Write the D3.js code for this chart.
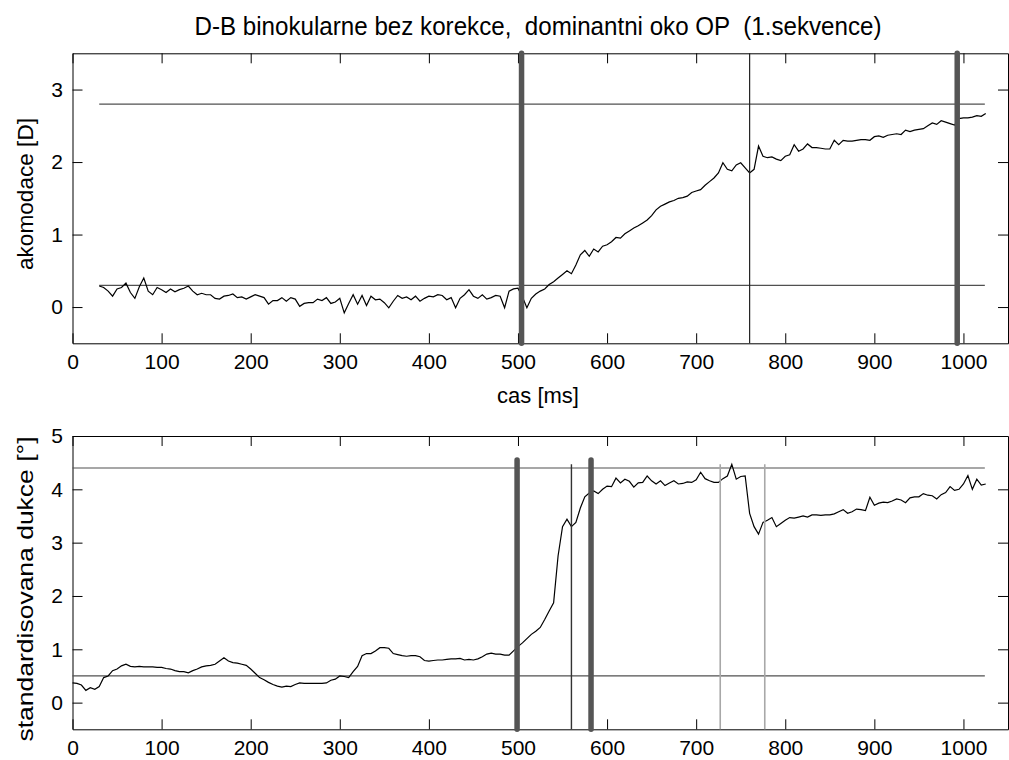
<!DOCTYPE html>
<html>
<head>
<meta charset="utf-8">
<script src="https://cdn.jsdelivr.net/npm/d3@7"></script>
<style>
  body { margin: 0; background: #fff; }
  svg { display: block; }
  text { font-family: "Liberation Sans", Arial, sans-serif; fill: #000; }
</style>
</head>
<body>
<div id="chart"></div>
<script>
const title = "D-B binokularne bez korekce,  dominantni oko OP  (1.sekvence)";
const xTicks = [0, 100, 200, 300, 400, 500, 600, 700, 800, 900, 1000];

// top panel: akomodace, sampled every 5 ms from 30 ms
const akomTime = d3.range(30, 1026, 5);
const akomValues = [
  0.29, 0.27, 0.22, 0.15, 0.25, 0.27, 0.33, 0.20, 0.12, 0.28,
  0.40, 0.22, 0.17, 0.27, 0.24, 0.20, 0.25, 0.21, 0.24, 0.26,
  0.29, 0.22, 0.17, 0.19, 0.17, 0.17, 0.12, 0.11, 0.15, 0.16,
  0.18, 0.13, 0.14, 0.11, 0.14, 0.17, 0.15, 0.13, 0.04, 0.09,
  0.09, 0.13, 0.08, 0.13, 0.11, 0.01, 0.05, 0.06, 0.06, 0.11,
  0.09, 0.13, 0.05, 0.07, 0.12, -0.08, 0.05, 0.17, 0.04, 0.16,
  0.02, 0.15, 0.10, 0.11, 0.06, -0.01, 0.08, 0.16, 0.12, 0.14,
  0.10, 0.15, 0.08, 0.12, 0.15, 0.14, 0.17, 0.16, 0.10, 0.13,
  -0.01, 0.12, 0.17, 0.24, 0.15, 0.12, 0.17, 0.11, 0.13, 0.16,
  0.15, -0.01, 0.22, 0.25, 0.26, 0.14, -0.01, 0.12, 0.18, 0.22,
  0.25, 0.31, 0.35, 0.40, 0.45, 0.50, 0.46, 0.58, 0.72, 0.78,
  0.70, 0.80, 0.76, 0.84, 0.86, 0.90, 0.96, 0.95, 1.01, 1.05,
  1.09, 1.12, 1.16, 1.20, 1.26, 1.34, 1.39, 1.42, 1.45, 1.47,
  1.50, 1.51, 1.53, 1.58, 1.60, 1.62, 1.68, 1.73, 1.78, 1.85,
  1.99, 1.90, 1.88, 1.96, 1.99, 1.92, 1.85, 1.90, 2.22, 2.08,
  2.06, 2.07, 2.04, 2.02, 2.08, 2.10, 2.24, 2.15, 2.18, 2.25,
  2.20, 2.20, 2.19, 2.18, 2.18, 2.30, 2.24, 2.30, 2.29, 2.29,
  2.30, 2.31, 2.31, 2.30, 2.35, 2.36, 2.34, 2.37, 2.38, 2.39,
  2.38, 2.44, 2.42, 2.44, 2.45, 2.46, 2.50, 2.54, 2.52, 2.57,
  2.55, 2.53, 2.51, 2.60, 2.61, 2.61, 2.62, 2.64, 2.63, 2.67
];
const akomLevels = [2.8, 0.3];
const akomLevelRange = [30, 1024];
const akomThick = [504, 993];
const akomThin = [760];

// bottom panel: standardisovana dukce, sampled every 5 ms from 0 ms
const dukceTime = d3.range(0, 1026, 5);
const dukceValues = [
  0.37, 0.36, 0.33, 0.23, 0.28, 0.25, 0.30, 0.47, 0.50, 0.60,
  0.63, 0.69, 0.72, 0.68, 0.67, 0.68, 0.67, 0.67, 0.67, 0.66,
  0.66, 0.64, 0.63, 0.60, 0.58, 0.58, 0.56, 0.60, 0.63, 0.67,
  0.69, 0.70, 0.72, 0.78, 0.84, 0.78, 0.75, 0.74, 0.72, 0.70,
  0.63, 0.55, 0.47, 0.43, 0.38, 0.34, 0.31, 0.29, 0.31, 0.30,
  0.34, 0.37, 0.36, 0.36, 0.36, 0.36, 0.36, 0.37, 0.42, 0.44,
  0.50, 0.49, 0.47, 0.58, 0.68, 0.88, 0.92, 0.92, 0.97, 1.03,
  1.03, 1.02, 0.92, 0.90, 0.88, 0.87, 0.88, 0.88, 0.86, 0.79,
  0.78, 0.79, 0.80, 0.80, 0.81, 0.82, 0.82, 0.83, 0.80, 0.81,
  0.80, 0.82, 0.86, 0.91, 0.93, 0.91, 0.91, 0.89, 0.89, 0.97,
  1.05, 1.12, 1.20, 1.28, 1.34, 1.41, 1.56, 1.72, 1.87, 2.75,
  3.30, 3.44, 3.30, 3.38, 3.65, 3.86, 3.93, 3.97, 3.92, 4.00,
  4.06, 4.05, 4.21, 4.12, 4.19, 4.15, 4.04, 4.12, 4.13, 4.25,
  4.16, 4.10, 4.16, 4.07, 4.12, 4.16, 4.10, 4.11, 4.14, 4.13,
  4.18, 4.32, 4.20, 4.16, 4.13, 4.13, 4.20, 4.25, 4.47, 4.19,
  4.24, 4.25, 3.55, 3.30, 3.16, 3.38, 3.42, 3.47, 3.30, 3.36,
  3.42, 3.47, 3.46, 3.48, 3.50, 3.48, 3.52, 3.52, 3.51, 3.52,
  3.52, 3.54, 3.58, 3.62, 3.55, 3.58, 3.63, 3.62, 3.60, 3.85,
  3.70, 3.74, 3.76, 3.75, 3.78, 3.82, 3.80, 3.75, 3.84, 3.86,
  3.86, 3.92, 3.89, 3.88, 3.82, 3.90, 3.94, 4.05, 3.98, 4.00,
  4.10, 4.26, 4.00, 4.19, 4.08, 4.10
];
const dukceLevels = [4.4, 0.5];
const dukceLevelRange = [0, 1024];
const dukceThick = [499, 582];
const dukceThin = [560];
const dukceLight = [727, 777];
const dukceMarkTop = 4.55;

const width = 1009, height = 760;
const left = 72.5, right = 1008;
const fontStack = "'Liberation Sans', Arial, sans-serif";

const svg = d3.select("#chart").append("svg")
    .attr("width", width)
    .attr("height", height);

const x = d3.scaleLinear().domain([0, 1050]).range([left, right]);
const fmt = d3.format("d");

function panel(top, bottom, yDomain, yTicks) {
  const y = d3.scaleLinear().domain(yDomain).range([bottom, top]);
  const g = svg.append("g");

  g.append("g").attr("transform", `translate(0,${bottom})`)
    .call(d3.axisBottom(x).tickValues(xTicks).tickFormat(fmt)
      .tickSize(-10).tickSizeOuter(0).tickPadding(10.5));
  g.append("g").attr("transform", `translate(0,${top})`)
    .call(d3.axisTop(x).tickValues(xTicks).tickSize(-10).tickSizeOuter(0).tickFormat(""));
  g.append("g").attr("transform", `translate(${left},0)`)
    .call(d3.axisLeft(y).tickValues(yTicks).tickFormat(fmt)
      .tickSize(-10).tickSizeOuter(0).tickPadding(9.5));
  g.append("g").attr("transform", `translate(${right},0)`)
    .call(d3.axisRight(y).tickValues(yTicks).tickSize(-10).tickSizeOuter(0).tickFormat(""));

  g.selectAll(".domain").attr("stroke", "#000");
  g.selectAll(".tick line").attr("stroke", "#000");
  g.selectAll("g").attr("font-size", 21).attr("font-family", fontStack);
  return { g, y };
}

function drawLevels(p, levels, range) {
  p.g.selectAll(null).data(levels).join("line")
    .attr("x1", x(range[0])).attr("x2", x(range[1]))
    .attr("y1", d => p.y(d)).attr("y2", d => p.y(d))
    .attr("stroke", "#505050").attr("stroke-width", 1.2);
}

function drawSeries(p, t, v) {
  const line = d3.line().x((d, i) => x(t[i])).y(d => p.y(d));
  p.g.append("path").datum(v)
    .attr("d", line)
    .attr("fill", "none")
    .attr("stroke", "#000")
    .attr("stroke-width", 1.2);
}

function drawMarks(p, xs, y0, y1, color, w, cap) {
  p.g.selectAll(null).data(xs).join("line")
    .attr("x1", d => x(d)).attr("x2", d => x(d))
    .attr("y1", p.y(y0)).attr("y2", p.y(y1))
    .attr("stroke", color).attr("stroke-width", w)
    .attr("stroke-linecap", cap);
}

// top panel
const p1 = panel(53.3, 343.3, [-0.5, 3.5], [0, 1, 2, 3]);
drawLevels(p1, akomLevels, akomLevelRange);
drawSeries(p1, akomTime, akomValues);
drawMarks(p1, akomThin, -0.5, 3.5, "#222", 1.2, "butt");
drawMarks(p1, akomThick, -0.5, 3.5, "#555", 5.5, "round");

// bottom panel
const p2 = panel(436, 729.3, [-0.5, 5], [0, 1, 2, 3, 4, 5]);
drawLevels(p2, dukceLevels, dukceLevelRange);
drawSeries(p2, dukceTime, dukceValues);
drawMarks(p2, dukceLight, -0.5, 4.47, "#a8a8a8", 1.6, "butt");
drawMarks(p2, dukceThin, -0.5, 4.47, "#333", 1.4, "butt");
drawMarks(p2, dukceThick, -0.5, dukceMarkTop, "#555", 5.5, "round");

// texts
svg.append("text")
  .attr("x", 538).attr("y", 35)
  .attr("text-anchor", "middle")
  .attr("font-size", 25)
  .attr("textLength", 687)
  .attr("lengthAdjust", "spacingAndGlyphs")
  .style("white-space", "pre")
  .text(title);

svg.append("text")
  .attr("x", 538).attr("y", 403)
  .attr("text-anchor", "middle")
  .attr("font-size", 22)
  .text("cas [ms]");

svg.append("text")
  .attr("transform", "translate(33,194) rotate(-90)")
  .attr("text-anchor", "middle")
  .attr("font-size", 22)
  .attr("textLength", 152)
  .attr("lengthAdjust", "spacingAndGlyphs")
  .text("akomodace [D]");

svg.append("text")
  .attr("transform", "translate(33,589) rotate(-90)")
  .attr("text-anchor", "middle")
  .attr("font-size", 22)
  .attr("textLength", 305)
  .attr("lengthAdjust", "spacingAndGlyphs")
  .text("standardisovana dukce [°]");
</script>
</body>
</html>
